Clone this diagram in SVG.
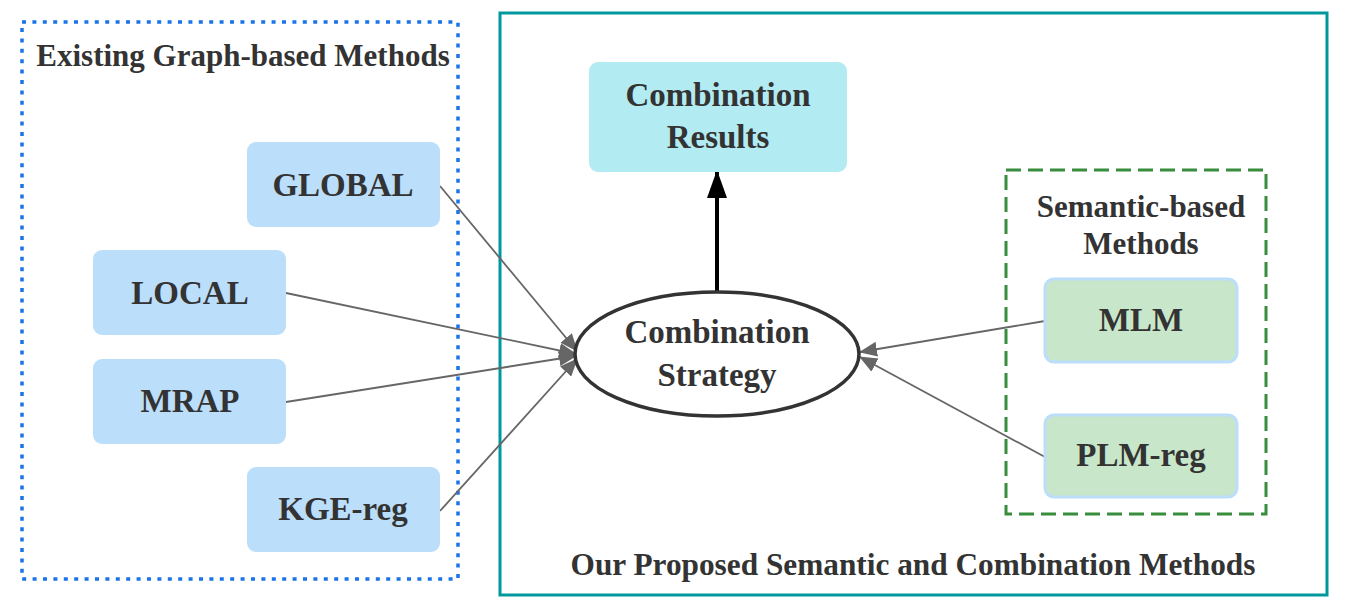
<svg xmlns="http://www.w3.org/2000/svg" width="1345" height="608" viewBox="0 0 1345 608">
<defs>
<marker id="grayhead" viewBox="0 0 18 15" refX="17" refY="7.5" markerWidth="18" markerHeight="15" markerUnits="userSpaceOnUse" orient="auto">
<path d="M0,0 L18,7.5 L0,15 z" fill="#666"/>
</marker>
<marker id="blackhead" viewBox="0 0 28 20" refX="26" refY="10" markerWidth="28" markerHeight="20" markerUnits="userSpaceOnUse" orient="auto">
<path d="M0,0 L28,10 L0,20 z" fill="#000"/>
</marker>
</defs>
<style>
text{font-family:"Liberation Serif","Times New Roman",serif;font-weight:bold;fill:#333;text-anchor:middle}
.node{font-size:33px}
.title{font-size:31px}
.blue{fill:#bbdefb}
.green{fill:#c8e6c9;stroke:#bbdefb;stroke-width:3}
.edge{stroke:#666;stroke-width:1.8;fill:none;marker-end:url(#grayhead)}
</style>
<rect width="1345" height="608" fill="#fff"/>
<g id="group-existing">
<rect x="22" y="22" width="436" height="557" fill="none" stroke="#1a73e8" stroke-width="3.5" stroke-dasharray="4 6.4"/>
<text class="title" x="243" y="66">Existing Graph-based Methods</text>
</g>
<g id="group-proposed">
<rect x="500" y="13" width="827" height="582" fill="none" stroke="#00979d" stroke-width="3"/>
<text class="title" x="913" y="575" style="font-size:31.3px">Our Proposed Semantic and Combination Methods</text>
</g>
<g id="group-semantic">
<rect x="1006" y="170" width="260" height="344" fill="none" stroke="#388e3c" stroke-width="3" stroke-dasharray="15 7"/>
<text class="title" x="1141" y="217">Semantic-based</text>
<text class="title" x="1141" y="254">Methods</text>
</g>
<g id="connectors">
<line class="edge" x1="440" y1="186" x2="577" y2="351"/>
<line class="edge" x1="286" y1="293" x2="576" y2="354"/>
<line class="edge" x1="286" y1="402" x2="576" y2="356"/>
<line class="edge" x1="440" y1="511" x2="577" y2="359"/>
<line class="edge" x1="1045" y1="321" x2="860" y2="352"/>
<line class="edge" x1="1045" y1="457" x2="860" y2="357"/>
<line x1="717" y1="292" x2="717" y2="172" stroke="#000" stroke-width="4" marker-end="url(#blackhead)"/>
</g>
<g id="node-global">
<rect class="blue" x="247" y="142" width="193" height="85" rx="9"/>
<text class="node" x="343" y="196">GLOBAL</text>
</g>
<g id="node-local">
<rect class="blue" x="93" y="250" width="193" height="85" rx="9"/>
<text class="node" x="190" y="304">LOCAL</text>
</g>
<g id="node-mrap">
<rect class="blue" x="93" y="359" width="193" height="85" rx="9"/>
<text class="node" x="190" y="412">MRAP</text>
</g>
<g id="node-kge">
<rect class="blue" x="247" y="467" width="193" height="85" rx="9"/>
<text class="node" x="343" y="520">KGE-reg</text>
</g>
<g id="node-results">
<rect x="589" y="62" width="258" height="110" rx="9" fill="#b2ebf2"/>
<text class="node" x="718" y="106">Combination</text>
<text class="node" x="718" y="148">Results</text>
</g>
<g id="node-strategy">
<ellipse cx="717" cy="354" rx="142" ry="62" fill="#fff" stroke="#333" stroke-width="3.5"/>
<text class="node" x="717" y="343">Combination</text>
<text class="node" x="717" y="386">Strategy</text>
</g>
<g id="node-mlm">
<rect class="green" x="1045" y="279" width="192" height="83" rx="9"/>
<text class="node" x="1141" y="331">MLM</text>
</g>
<g id="node-plm">
<rect class="green" x="1045" y="415" width="192" height="82" rx="9"/>
<text class="node" x="1141" y="466">PLM-reg</text>
</g>
</svg>
